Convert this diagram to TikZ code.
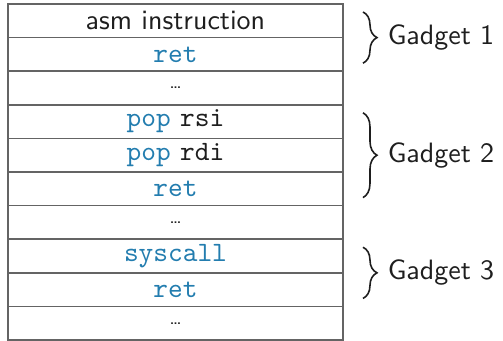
\documentclass[tikz,border=0pt]{standalone}
\usepackage{xcolor}
\usepackage{tikz}
\usetikzlibrary{positioning, calc, decorations.pathreplacing}

\definecolor{kwblue}{RGB}{35,125,175}
\definecolor{gridgray}{RGB}{100,100,100}
\definecolor{inkgray}{RGB}{30,30,30}
\newcommand{\kw}[1]{\textcolor{kwblue}{\texttt{#1}}}

\begin{document}
\begin{tikzpicture}[
    slot/.style={
        rectangle,
        draw=gridgray,
        text=inkgray,
        line width=0.6pt,
        minimum width=125.6pt,
        minimum height=12.6pt,
        inner sep=0pt,
        outer sep=0pt,
        font=\fontsize{10.5}{12}\selectfont\sffamily
    },
    brc/.style={
        decorate,
        decoration={brace, amplitude=5.25pt},
        line width=0.6pt,
        inkgray
    },
    lbl/.style={
        font=\fontsize{10.5}{12}\selectfont\sffamily,
        text=inkgray,
        inner sep=0pt,
        right=9pt
    }
]

\useasboundingbox (-3pt,1.5pt) rectangle (185.6pt,-126pt);

\node[slot, anchor=north west] (s0) at (0,0) {asm instruction};
\node[slot, below=0pt of s0] (s1) {\kw{ret}};
\node[slot, below=0pt of s1] (s2) {\scriptsize\ldots};
\node[slot, below=0pt of s2] (s3) {\kw{pop} \texttt{rsi}};
\node[slot, below=0pt of s3] (s4) {\kw{pop} \texttt{rdi}};
\node[slot, below=0pt of s4] (s5) {\kw{ret}};
\node[slot, below=0pt of s5] (s6) {\scriptsize\ldots};
\node[slot, below=0pt of s6] (s7) {\kw{syscall}};
\node[slot, below=0pt of s7] (s8) {\kw{ret}};
\node[slot, below=0pt of s8] (s9) {\scriptsize\ldots};


\draw[brc]
($(s0.north east)+(7.5pt,-3pt)$) -- ($(s1.south east)+(7.5pt,3pt)$)
node[midway, lbl]{Gadget 1};

\draw[brc]
($(s3.north east)+(7.5pt,-3pt)$) -- ($(s5.south east)+(7.5pt,3pt)$)
node[midway, lbl]{Gadget 2};

\draw[brc]
($(s7.north east)+(7.5pt,-3pt)$) -- ($(s8.south east)+(7.5pt,3pt)$)
node[midway, lbl]{Gadget 3};


\end{tikzpicture}
\end{document}
